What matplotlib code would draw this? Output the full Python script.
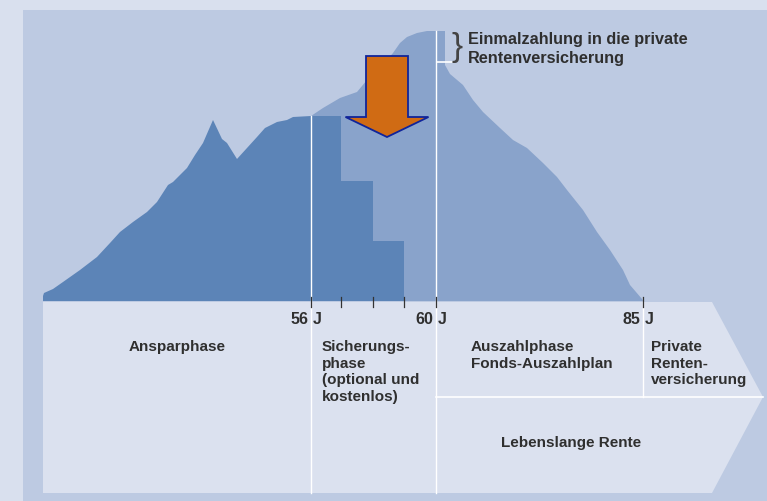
import matplotlib
matplotlib.use("Agg")
import matplotlib.pyplot as plt

# Diagram drawn in pixel space of the 767x501 reference
W, H = 767, 501
plt.rcParams["font.family"] = ["Liberation Sans", "DejaVu Sans"]

# -- Data --
# saving phase (dark area), incl. the stepwise shift during the safety phase
dark_x = [43, 43, 44, 53, 63, 80, 97, 110, 120, 133, 147, 157, 168, 173, 187, 195, 203,
          213, 222, 227, 237, 247, 257, 265, 277, 287, 293, 311, 341, 341, 373, 373, 404, 404]
dark_y = [301, 296, 293, 289, 282, 270, 257, 243, 232, 222, 212, 202, 185, 182, 168, 155, 143,
          120, 139, 143, 159, 148, 137, 128, 122, 120, 117, 116, 116, 181, 181, 241, 241, 301]
# total capital (medium area) incl. lump sum and payout plan
total_x = [311, 323, 340, 357, 367, 380, 393, 400, 407, 417, 427, 437, 445, 445, 450, 463,
           473, 483, 500, 513, 527, 543, 557, 567, 583, 597, 610, 623, 630, 642, 643]
total_y = [116, 108, 98, 92, 80, 68, 53, 43, 37, 33, 31, 31, 31, 65, 74, 85,
           100, 112, 128, 140, 148, 163, 177, 190, 210, 232, 250, 270, 285, 299, 301]

tick_ages = [56, 60, 85]
tick_px = [311, 436, 643]
minor_px = [341, 373, 404]

phase_labels = ["Ansparphase",
                "Sicherungs-\nphase\n(optional und\nkostenlos)",
                "Auszahlphase\nFonds-Auszahlplan",
                "Private\nRenten-\nversicherung"]
annuity_label = "Lebenslange Rente"
lump_label = "Einmalzahlung in die private\nRentenversicherung"

# colours
C_OUTER = "#d9e0ee"
C_PANEL = "#bdcae2"
C_BOX = "#dbe1ef"
C_DARK = "#5c84b7"
C_MED = "#89a3cb"
C_TEXT = "#2f2f2f"

BASE = 301
BOX_TOP, BOX_MID, BOX_BOT = 302, 397, 493

fig = plt.figure(figsize=(W / 100, H / 100), dpi=100, facecolor=C_OUTER)
ax = fig.add_axes([0, 0, 1, 1])
ax.set_xlim(0, W)
ax.set_ylim(H, 0)
ax.axis("off")

# panel background
ax.add_patch(plt.Rectangle((23, 10), W - 23, H - 10, color=C_PANEL, lw=0))

# areas
ax.fill(total_x + [311], total_y + [BASE], color=C_MED, lw=0)
ax.fill(dark_x, dark_y, color=C_DARK, lw=0)

# arrow shaped timeline box
ax.fill([43, 712, 763, 712, 43], [BOX_TOP, BOX_TOP, BOX_MID, BOX_BOT, BOX_BOT], color=C_BOX, lw=0)

# white separators
ax.plot([tick_px[0]] * 2, [116, BOX_BOT], color="white", lw=1.0)
ax.plot([tick_px[1]] * 2, [31, BOX_BOT], color="white", lw=1.0)
ax.plot([tick_px[2]] * 2, [BOX_TOP, BOX_MID], color="white", lw=1.0)
ax.plot([tick_px[1], 763], [BOX_MID] * 2, color="white", lw=1.2)
ax.plot([437, 452], [62, 62], color="white", lw=1.2)

# ticks and labels
for px in tick_px + minor_px:
    ax.plot([px, px], [297, 307], color="#333333", lw=0.9)
for age, px in zip(tick_ages, tick_px):
    ax.text(px - 2.5, 324, str(age), ha="right", va="baseline", fontsize=11.5,
            fontweight="bold", color=C_TEXT)
    ax.text(px + 2, 324, "J", ha="left", va="baseline", fontsize=11.5,
            fontweight="bold", color=C_TEXT)

# phase texts
kw = dict(va="top", fontsize=11, fontweight="bold", color=C_TEXT, linespacing=1.24)
ax.text(177, 340, phase_labels[0], ha="center", **kw)
ax.text(322, 340, phase_labels[1], ha="left", **kw)
ax.text(471, 340, phase_labels[2], ha="left", **kw)
ax.text(651, 340, phase_labels[3], ha="left", **kw)
ax.text(571, 447, annuity_label, ha="center", va="baseline", fontsize=11,
        fontweight="bold", color=C_TEXT)

# lump sum note with brace
ax.text(468, 32, lump_label, ha="left", va="top", fontsize=11.7, fontweight="bold",
        color=C_TEXT, linespacing=1.35)
ax.text(457, 47, "}", ha="center", va="center", fontsize=24, color="#444444")

# orange arrow into the annuity
ax.arrow(387, 56, 0, 81, width=42, head_width=83, head_length=20,
         length_includes_head=True, facecolor="#d06b14", edgecolor="#10249a", lw=1.3)

fig.savefig("out.png", dpi=100, facecolor=C_OUTER)
